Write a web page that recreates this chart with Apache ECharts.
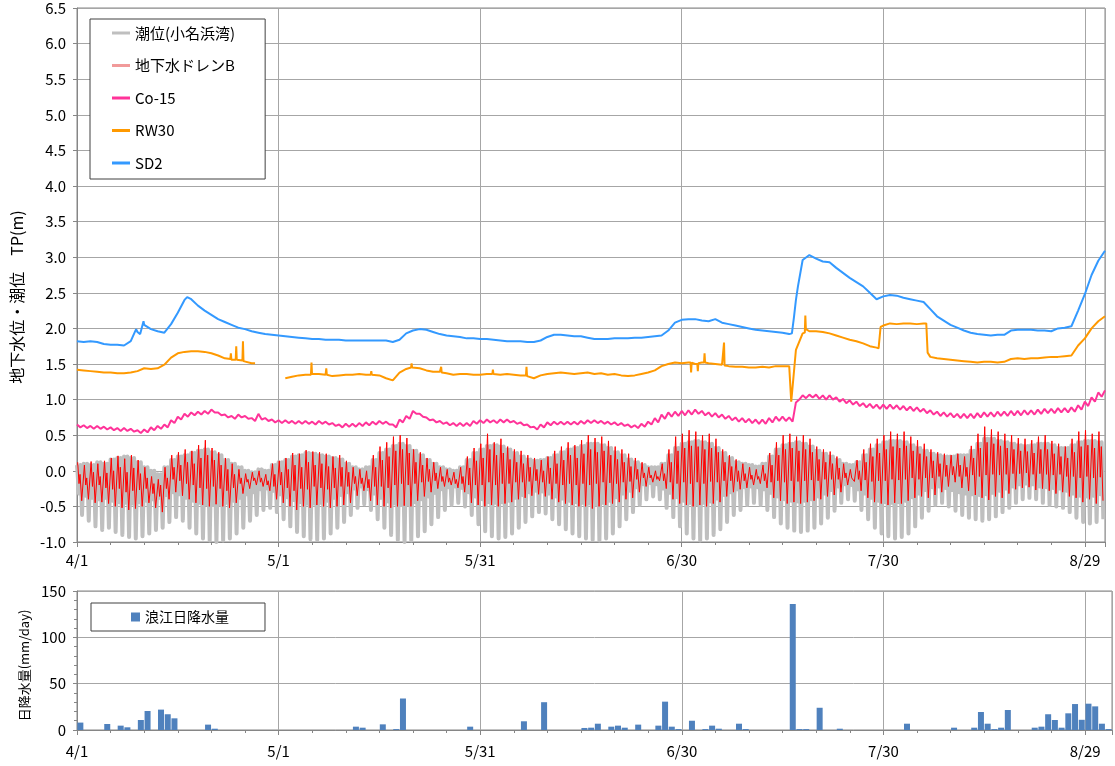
<!DOCTYPE html>
<html lang="ja">
<head>
<meta charset="utf-8">
<title>地下水位・潮位と日降水量</title>
<script src="https://cdn.jsdelivr.net/npm/echarts@6/dist/echarts.min.js"></script>
<style>
  html, body { margin: 0; padding: 0; background: #fff; }
  #chart { width: 1115px; height: 766px; }
</style>
</head>
<body>
<div id="chart"></div>
<script>
// x = days since 4/1; tick labels every 30 days
const dateTicks = ["4/1", "5/1", "5/31", "6/30", "7/30", "8/29"];

// SD2, daily (day 0..153) plus a few read-off intermediate points
const sd2 = [
  1.82,1.81,1.82,1.81,1.78,1.77,1.77,1.76,1.82,1.95,
  2.05,1.99,1.96,1.94,2.06,2.22,2.40,2.41,2.32,2.25,
  2.19,2.13,2.09,2.05,2.01,1.99,1.96,1.94,1.92,1.91,
  1.90,1.89,1.88,1.87,1.86,1.85,1.85,1.84,1.84,1.84,
  1.83,1.83,1.83,1.83,1.83,1.83,1.83,1.81,1.84,1.93,
  1.97,1.99,1.98,1.95,1.92,1.90,1.89,1.88,1.86,1.86,
  1.85,1.85,1.84,1.83,1.82,1.82,1.82,1.81,1.81,1.83,
  1.88,1.91,1.91,1.90,1.89,1.89,1.87,1.85,1.85,1.85,
  1.86,1.86,1.86,1.87,1.87,1.88,1.89,1.90,1.97,2.08,
  2.12,2.13,2.13,2.11,2.10,2.13,2.08,2.06,2.04,2.02,
  2.00,1.98,1.97,1.96,1.95,1.94,1.92,2.40,2.96,3.03,
  2.98,2.94,2.93,2.85,2.78,2.71,2.65,2.59,2.50,2.41,
  2.45,2.47,2.46,2.43,2.41,2.39,2.37,2.27,2.17,2.11,
  2.05,2.01,1.97,1.94,1.92,1.91,1.90,1.91,1.91,1.97,
  1.98,1.98,1.98,1.97,1.97,1.96,2.00,2.01,2.03,2.25,
  2.48,2.75,2.95,3.09
];
const sd2Extra = [[8.8,1.99],[9.4,1.92],[9.9,2.10],[16.4,2.44],[106.4,1.93],[106.7,2.15],[107.3,2.59]];

// RW30, daily (null = no record) plus spikes / steps
const rw30 = [
  1.42,1.41,1.40,1.39,1.38,1.38,1.37,1.37,1.38,1.40,
  1.44,1.43,1.44,1.49,1.59,1.65,1.67,1.68,1.68,1.67,
  1.65,1.62,1.58,1.56,1.55,1.52,1.51,null,null,null,
  null,1.30,1.32,1.34,1.35,1.36,1.36,1.35,1.33,1.34,
  1.35,1.35,1.36,1.35,1.36,1.34,1.30,1.27,1.38,1.43,
  1.46,1.44,1.41,1.39,1.39,1.37,1.35,1.36,1.36,1.35,
  1.35,1.36,1.36,1.35,1.36,1.35,1.34,1.33,1.30,1.34,
  1.36,1.37,1.38,1.37,1.36,1.37,1.38,1.36,1.37,1.35,
  1.36,1.34,1.33,1.34,1.36,1.38,1.41,1.47,1.50,1.52,
  1.51,1.52,1.50,1.52,1.51,1.50,1.49,1.47,1.46,1.46,
  1.45,1.45,1.46,1.45,1.47,1.47,1.47,1.70,1.93,1.96,
  1.96,1.95,1.93,1.90,1.87,1.84,1.82,1.79,1.75,1.73,
  2.04,2.07,2.06,2.07,2.07,2.06,2.07,1.60,1.58,1.57,
  1.56,1.55,1.54,1.53,1.52,1.53,1.53,1.52,1.53,1.57,
  1.58,1.57,1.58,1.58,1.59,1.60,1.60,1.61,1.62,1.76,
  1.86,2.00,2.10,2.17
];
const rw30Extra = [
  [22.82,1.57],[22.9,1.65],[22.98,1.56],
  [23.62,1.56],[23.7,1.75],[23.78,1.56],
  [24.62,1.55],[24.7,1.82],[24.78,1.54],
  [26.5,1.51],
  [34.82,1.35],[34.9,1.52],[34.98,1.36],
  [37.02,1.35],[37.1,1.44],[37.18,1.35],
  [43.72,1.35],[43.8,1.40],[43.88,1.35],
  [49.72,1.45],[49.8,1.51],[49.88,1.45],
  [54.12,1.39],[54.2,1.46],[54.28,1.38],
  [61.82,1.36],[61.9,1.42],[61.98,1.36],
  [66.82,1.34],[66.9,1.46],[66.98,1.33],
  [91.32,1.52],[91.4,1.38],[91.48,1.52],
  [92.32,1.50],[92.4,1.40],[92.48,1.51],
  [93.32,1.52],[93.4,1.65],[93.48,1.52],
  [96.22,1.49],[96.3,1.80],[96.38,1.48],
  [106.22,1.47],[106.3,0.97],[106.6,1.28],
  [108.32,1.94],[108.4,2.18],[108.48,1.99],
  [119.3,1.72],[119.6,2.02],
  [126.4,2.07],[126.6,1.66]
];

// Co-15, every half day from 4/1
const co15 = [
  0.65,0.61,0.64,0.60,0.63,0.59,0.63,0.59,0.62,0.58,0.61,0.57,0.60,0.56,0.60,0.56,0.59,0.55,0.57,0.53,
  0.58,0.54,0.61,0.57,0.63,0.59,0.65,0.61,0.71,0.67,0.76,0.72,0.80,0.76,0.82,0.78,0.83,0.79,0.84,0.80,
  0.86,0.82,0.82,0.78,0.79,0.75,0.77,0.73,0.79,0.75,0.77,0.73,0.74,0.70,0.80,0.72,0.74,0.70,0.72,0.68,
  0.71,0.67,0.71,0.67,0.70,0.66,0.70,0.66,0.70,0.66,0.69,0.65,0.70,0.66,0.69,0.65,0.67,0.63,0.65,0.61,
  0.66,0.62,0.66,0.62,0.67,0.63,0.68,0.64,0.69,0.65,0.70,0.66,0.69,0.65,0.65,0.61,0.72,0.68,0.77,0.73,
  0.84,0.80,0.80,0.76,0.75,0.71,0.72,0.68,0.70,0.66,0.68,0.64,0.67,0.63,0.67,0.63,0.67,0.63,0.70,0.66,
  0.71,0.67,0.72,0.68,0.71,0.67,0.72,0.68,0.72,0.68,0.70,0.66,0.68,0.64,0.65,0.61,0.62,0.58,0.65,0.61,
  0.68,0.64,0.69,0.65,0.69,0.65,0.69,0.65,0.69,0.65,0.70,0.66,0.71,0.67,0.71,0.67,0.70,0.66,0.69,0.65,
  0.68,0.64,0.67,0.63,0.65,0.61,0.64,0.60,0.66,0.62,0.69,0.65,0.74,0.68,0.79,0.73,0.82,0.76,0.83,0.77,
  0.84,0.78,0.85,0.79,0.86,0.80,0.84,0.78,0.82,0.76,0.81,0.75,0.79,0.73,0.77,0.71,0.75,0.69,0.74,0.68,
  0.73,0.67,0.72,0.66,0.72,0.66,0.74,0.68,0.76,0.70,0.76,0.70,0.75,0.69,0.96,1.00,1.06,1.02,1.07,1.03,
  1.07,1.01,1.06,1.00,1.06,1.00,1.03,0.97,1.01,0.95,0.99,0.93,0.97,0.91,0.95,0.89,0.94,0.88,0.93,0.87,
  0.93,0.87,0.93,0.87,0.92,0.86,0.91,0.85,0.90,0.84,0.89,0.83,0.87,0.81,0.85,0.79,0.83,0.77,0.82,0.76,
  0.81,0.75,0.80,0.74,0.80,0.74,0.80,0.74,0.81,0.75,0.82,0.76,0.82,0.76,0.83,0.77,0.83,0.77,0.84,0.78,
  0.84,0.78,0.85,0.79,0.85,0.79,0.86,0.80,0.87,0.81,0.87,0.81,0.88,0.82,0.88,0.82,0.89,0.83,0.92,0.86,
  0.97,0.91,1.03,0.97,1.10,1.04,1.13
];

// 潮位(小名浜湾): daily high, shallow low and deep low (day 0..152)
const tideHigh = [
  0.08,0.10,0.08,0.12,0.10,0.16,0.18,0.20,0.18,0.12,
  0.05,0.00,-0.05,0.05,0.15,0.20,0.22,0.25,0.28,0.30,
  0.26,0.22,0.15,0.10,0.05,0.00,-0.02,0.02,0.00,0.08,
  0.12,0.15,0.20,0.22,0.25,0.24,0.22,0.20,0.18,0.16,
  0.10,0.05,0.02,0.05,0.15,0.25,0.30,0.35,0.38,0.35,
  0.28,0.22,0.15,0.10,0.05,0.02,0.00,0.05,0.15,0.25,
  0.30,0.35,0.36,0.34,0.30,0.25,0.20,0.16,0.14,0.15,
  0.18,0.22,0.26,0.30,0.32,0.35,0.38,0.38,0.36,0.32,
  0.26,0.22,0.16,0.12,0.08,0.05,0.05,0.10,0.22,0.32,
  0.38,0.40,0.42,0.40,0.38,0.32,0.25,0.18,0.12,0.10,
  0.08,0.06,0.10,0.20,0.30,0.36,0.38,0.40,0.38,0.34,
  0.28,0.24,0.20,0.15,0.10,0.08,0.12,0.22,0.30,0.36,
  0.40,0.42,0.42,0.40,0.36,0.32,0.28,0.24,0.22,0.20,
  0.20,0.22,0.22,0.28,0.38,0.45,0.45,0.42,0.40,0.38,
  0.36,0.35,0.36,0.38,0.38,0.36,0.32,0.32,0.36,0.40,
  0.42,0.42,0.40
];
const tideLowShallow = [
  -0.32,-0.35,-0.38,-0.40,-0.38,-0.42,-0.44,-0.45,-0.46,-0.44,
  -0.42,-0.40,-0.38,-0.34,-0.30,-0.33,-0.38,-0.42,-0.45,-0.47,
  -0.48,-0.47,-0.45,-0.42,-0.38,-0.33,-0.30,-0.26,-0.25,-0.28,
  -0.33,-0.37,-0.41,-0.44,-0.46,-0.46,-0.45,-0.42,-0.38,-0.34,
  -0.30,-0.25,-0.22,-0.26,-0.32,-0.38,-0.43,-0.46,-0.48,-0.47,
  -0.44,-0.40,-0.36,-0.31,-0.26,-0.23,-0.22,-0.24,-0.30,-0.36,
  -0.40,-0.44,-0.45,-0.44,-0.42,-0.38,-0.34,-0.30,-0.28,-0.29,
  -0.32,-0.36,-0.39,-0.42,-0.44,-0.45,-0.46,-0.47,-0.45,-0.42,
  -0.37,-0.32,-0.28,-0.23,-0.19,-0.17,-0.19,-0.25,-0.31,-0.37,
  -0.42,-0.45,-0.47,-0.45,-0.43,-0.39,-0.34,-0.30,-0.26,-0.23,
  -0.22,-0.23,-0.26,-0.31,-0.36,-0.40,-0.42,-0.43,-0.42,-0.40,
  -0.36,-0.32,-0.27,-0.22,-0.19,-0.20,-0.26,-0.32,-0.38,-0.42,
  -0.44,-0.45,-0.44,-0.42,-0.37,-0.32,-0.27,-0.23,-0.22,-0.24,
  -0.27,-0.30,-0.32,-0.33,-0.34,-0.33,-0.31,-0.28,-0.25,-0.22,
  -0.19,-0.18,-0.19,-0.22,-0.23,-0.24,-0.25,-0.28,-0.32,-0.35,
  -0.36,-0.35,-0.33
];
const tideLowDeep = [
  -0.62,-0.70,-0.78,-0.83,-0.80,-0.86,-0.90,-0.93,-0.95,-0.92,
  -0.88,-0.83,-0.80,-0.72,-0.65,-0.70,-0.80,-0.88,-0.95,-0.98,
  -1.00,-0.98,-0.95,-0.88,-0.80,-0.70,-0.62,-0.55,-0.52,-0.58,
  -0.68,-0.78,-0.86,-0.92,-0.96,-0.97,-0.95,-0.88,-0.80,-0.72,
  -0.62,-0.52,-0.47,-0.55,-0.68,-0.80,-0.90,-0.97,-1.00,-0.98,
  -0.92,-0.85,-0.75,-0.65,-0.55,-0.48,-0.45,-0.50,-0.62,-0.75,
  -0.85,-0.92,-0.95,-0.93,-0.88,-0.80,-0.72,-0.64,-0.58,-0.60,
  -0.68,-0.75,-0.82,-0.88,-0.92,-0.95,-0.97,-0.98,-0.95,-0.88,
  -0.78,-0.68,-0.58,-0.48,-0.40,-0.36,-0.40,-0.52,-0.65,-0.78,
  -0.88,-0.95,-0.98,-0.95,-0.90,-0.82,-0.72,-0.62,-0.55,-0.48,
  -0.45,-0.48,-0.55,-0.65,-0.74,-0.80,-0.84,-0.86,-0.84,-0.80,
  -0.74,-0.66,-0.56,-0.45,-0.40,-0.42,-0.55,-0.68,-0.80,-0.88,
  -0.92,-0.95,-0.93,-0.88,-0.78,-0.66,-0.56,-0.48,-0.45,-0.50,
  -0.56,-0.62,-0.66,-0.68,-0.70,-0.68,-0.64,-0.58,-0.52,-0.45,
  -0.40,-0.38,-0.40,-0.45,-0.48,-0.50,-0.52,-0.58,-0.66,-0.72,
  -0.74,-0.72,-0.68
];

// 地下水ドレンB: daily main high, shallow low, second high, deep low (day 0..152)
const drainHigh = [
  0.12,0.08,0.13,0.10,0.14,0.18,0.21,0.17,0.22,0.15,
  0.05,-0.08,-0.12,0.05,0.22,0.26,0.30,0.28,0.36,0.43,
  0.32,0.26,0.18,0.10,0.02,-0.04,-0.02,0.00,-0.05,0.10,
  0.14,0.18,0.25,0.24,0.29,0.27,0.26,0.24,0.20,0.22,
  0.14,0.05,0.02,0.00,0.22,0.34,0.40,0.48,0.50,0.46,
  0.30,0.26,0.18,0.12,0.05,0.02,-0.02,0.05,0.20,0.32,
  0.38,0.52,0.40,0.45,0.34,0.30,0.28,0.22,0.18,0.15,
  0.20,0.28,0.34,0.40,0.36,0.43,0.50,0.46,0.48,0.42,
  0.34,0.30,0.24,0.18,0.12,0.05,0.00,0.10,0.30,0.48,
  0.52,0.57,0.55,0.50,0.52,0.45,0.30,0.22,0.16,0.10,
  0.05,0.02,0.08,0.25,0.40,0.50,0.52,0.48,0.50,0.45,
  0.34,0.30,0.27,0.20,0.10,0.02,0.15,0.30,0.38,0.45,
  0.50,0.55,0.52,0.55,0.48,0.43,0.38,0.30,0.26,0.24,
  0.22,0.24,0.20,0.35,0.52,0.62,0.58,0.55,0.52,0.50,
  0.46,0.45,0.43,0.48,0.50,0.42,0.38,0.34,0.45,0.55,
  0.57,0.52,0.55
];
const drainLowShallow = [
  -0.18,-0.20,-0.22,-0.20,-0.24,-0.26,-0.25,-0.30,-0.28,-0.27,
  -0.25,-0.32,-0.36,-0.25,-0.12,-0.14,-0.18,-0.20,-0.24,-0.25,
  -0.22,-0.25,-0.28,-0.24,-0.18,-0.16,-0.14,-0.16,-0.20,-0.22,
  -0.20,-0.24,-0.28,-0.25,-0.26,-0.22,-0.24,-0.26,-0.24,-0.22,
  -0.22,-0.18,-0.18,-0.24,-0.22,-0.22,-0.24,-0.20,-0.18,-0.20,
  -0.18,-0.16,-0.15,-0.14,-0.15,-0.16,-0.18,-0.18,-0.20,-0.20,
  -0.20,-0.16,-0.20,-0.18,-0.18,-0.16,-0.16,-0.15,-0.14,-0.16,
  -0.18,-0.18,-0.20,-0.18,-0.20,-0.18,-0.20,-0.18,-0.16,-0.17,
  -0.18,-0.16,-0.15,-0.12,-0.10,-0.10,-0.12,-0.14,-0.16,-0.18,
  -0.16,-0.18,-0.16,-0.18,-0.15,-0.16,-0.14,-0.14,-0.15,-0.14,
  -0.12,-0.12,-0.14,-0.16,-0.14,-0.16,-0.14,-0.15,-0.14,-0.13,
  -0.14,-0.12,-0.12,-0.12,-0.10,-0.10,-0.12,-0.13,-0.15,-0.14,
  -0.14,-0.12,-0.13,-0.12,-0.10,-0.12,-0.10,-0.10,-0.08,-0.08,
  -0.06,-0.08,-0.08,-0.06,-0.08,-0.06,-0.05,-0.06,-0.05,-0.04,
  -0.04,-0.03,-0.05,-0.04,-0.05,-0.06,-0.05,-0.08,-0.08,-0.10,
  -0.08,-0.10,-0.09
];
const drainHigh2 = [
  -0.05,-0.10,-0.02,-0.08,-0.03,0.00,0.05,-0.02,0.04,-0.04,
  -0.10,-0.18,-0.20,-0.10,0.05,0.08,0.12,0.10,0.18,0.22,
  0.15,0.08,0.02,-0.05,-0.10,-0.12,-0.10,-0.10,-0.14,-0.05,
  -0.02,0.02,0.08,0.05,0.12,0.08,0.10,0.06,0.04,0.05,
  -0.02,-0.08,-0.10,-0.12,0.05,0.15,0.20,0.28,0.30,0.25,
  0.12,0.08,0.02,-0.03,-0.08,-0.10,-0.12,-0.08,0.04,0.14,
  0.18,0.30,0.22,0.25,0.16,0.12,0.10,0.05,0.02,0.00,
  0.04,0.10,0.15,0.22,0.18,0.24,0.30,0.26,0.28,0.22,
  0.16,0.12,0.06,0.02,-0.03,-0.06,-0.08,-0.04,0.12,0.28,
  0.32,0.35,0.34,0.30,0.32,0.26,0.12,0.06,0.00,-0.04,
  -0.06,-0.08,-0.04,0.08,0.22,0.30,0.32,0.28,0.30,0.26,
  0.16,0.12,0.10,0.04,-0.03,-0.08,0.00,0.12,0.20,0.25,
  0.30,0.34,0.32,0.35,0.28,0.24,0.20,0.14,0.10,0.08,
  0.06,0.08,0.05,0.18,0.32,0.40,0.38,0.35,0.32,0.30,
  0.28,0.27,0.25,0.30,0.30,0.24,0.20,0.18,0.26,0.34,
  0.36,0.32,0.34
];
const drainLow = [
  -0.42,-0.40,-0.45,-0.44,-0.46,-0.50,-0.52,-0.55,-0.53,-0.50,
  -0.45,-0.52,-0.58,-0.40,-0.30,-0.35,-0.40,-0.45,-0.48,-0.50,
  -0.47,-0.50,-0.52,-0.45,-0.32,-0.25,-0.20,-0.22,-0.28,-0.40,
  -0.45,-0.50,-0.55,-0.50,-0.52,-0.48,-0.50,-0.52,-0.50,-0.48,
  -0.45,-0.35,-0.28,-0.42,-0.48,-0.50,-0.52,-0.50,-0.49,-0.50,
  -0.42,-0.36,-0.30,-0.25,-0.22,-0.20,-0.24,-0.30,-0.45,-0.48,
  -0.50,-0.48,-0.50,-0.46,-0.44,-0.40,-0.38,-0.35,-0.33,-0.36,
  -0.40,-0.44,-0.46,-0.48,-0.50,-0.50,-0.53,-0.50,-0.48,-0.46,
  -0.44,-0.40,-0.38,-0.30,-0.22,-0.16,-0.14,-0.25,-0.40,-0.46,
  -0.48,-0.50,-0.48,-0.50,-0.46,-0.44,-0.36,-0.30,-0.26,-0.24,
  -0.20,-0.18,-0.24,-0.38,-0.42,-0.46,-0.44,-0.46,-0.44,-0.42,
  -0.40,-0.36,-0.34,-0.30,-0.20,-0.15,-0.28,-0.38,-0.44,-0.46,
  -0.48,-0.45,-0.46,-0.42,-0.38,-0.36,-0.38,-0.34,-0.30,-0.22,
  -0.16,-0.24,-0.28,-0.34,-0.38,-0.41,-0.36,-0.38,-0.32,-0.26,
  -0.24,-0.23,-0.27,-0.25,-0.28,-0.32,-0.30,-0.36,-0.38,-0.44,
  -0.40,-0.46,-0.42
];

// 浪江日降水量 (mm/day), day 0..153
const rain = [
  8,0,0,0,6.5,0,4.7,2.9,0,10.8,
  20.5,0,22,17,12.6,0,0,0,0,5.8,
  1.4,0,0,0,0,0,0,0,0,0,
  0,0,0,0,0,0,0,0,0,0,
  0,3.6,2.5,0,0,6.1,0,1,34,0,
  0,0,0,0,0,0,0,0,3.6,0,
  0,0,0,0,0,0,9.4,0,0,30,
  0,0,0,0,0,2.2,2.5,6.8,0,3.6,
  4.7,2.5,0,5.8,0,0,4.7,30.6,3.6,1,
  0,10,0,1,4.7,1.4,0,0,6.8,1,
  0,0,0,0,0,0,136,1,1,0,
  24,0,0,1.4,0,0,0,0,0,0,
  0,0,0,6.8,0,0,0,0,0,0,
  2.5,0,0,2.5,19.4,6.8,1,2.5,21.6,0,
  0,0,2.5,3.6,17,10.8,2.5,18,28,11,
  28.4,25.5,6.8,1
];

function withExtra(daily, extra) {
  return daily
    .map((v, d) => [d, v])
    .concat(extra)
    .sort((a, b) => a[0] - b[0])
    .map((p) => [p[0], p[1] == null ? "-" : p[1]]);
}

const tidePoints = [];
tideHigh.forEach((hi, d) => {
  tidePoints.push([d, hi], [d + 0.3, tideLowShallow[d]], [d + 0.5, hi], [d + 0.75, tideLowDeep[d]]);
});
const drainPoints = [];
drainHigh.forEach((hi, d) => {
  drainPoints.push(
    [d + 0.1, hi],
    [d + 0.3, drainLowShallow[d]],
    [d + 0.45, drainHigh2[d]],
    [d + 0.7, drainLow[d]]
  );
});

const FONT = '"Noto Sans CJK JP", "Noto Sans", sans-serif';
const GRID_LINE = "#a6a6a6";
const AXIS_LINE = "#868686";

function dateLabel(value) {
  const i = value / 30;
  return Number.isInteger(i) && dateTicks[i] ? dateTicks[i] : "";
}

const chart = echarts.init(document.getElementById("chart"), null, { renderer: "canvas" });

const xAxisBase = {
  type: "value",
  min: 0,
  interval: 30,
  axisLine: { show: true, onZero: false, lineStyle: { color: AXIS_LINE } },
  axisTick: { show: true, length: 5, lineStyle: { color: AXIS_LINE } },
  minorTick: { show: true, splitNumber: 6, length: 3, lineStyle: { color: AXIS_LINE } },
  axisLabel: { formatter: dateLabel, color: "#000", fontSize: 15, margin: 11, showMaxLabel: false },
  splitLine: { show: true, lineStyle: { color: GRID_LINE } },
  minorSplitLine: { show: false },
};

const option = {
  animation: false,
  backgroundColor: "#ffffff",
  textStyle: { fontFamily: FONT, color: "#000" },
  grid: [
    { left: 77, top: 8, width: 1028, height: 534, show: true, borderColor: AXIS_LINE, borderWidth: 1, outerBoundsMode: "none" },
    { left: 77, top: 591, width: 1035, height: 139, show: true, borderColor: AXIS_LINE, borderWidth: 1, outerBoundsMode: "none" },
  ],
  legend: [
    {
      left: 90,
      top: 19,
      orient: "vertical",
      icon: "rect",
      itemWidth: 18,
      itemHeight: 3,
      itemGap: 14.5,
      padding: [5, 30, 7, 22],
      borderColor: "#404040",
      borderWidth: 1,
      backgroundColor: "#ffffff",
      selectedMode: false,
      textStyle: { fontSize: 15, lineHeight: 18, color: "#000" },
      data: [
        { name: "潮位(小名浜湾)" },
        { name: "地下水ドレンB", itemStyle: { color: "#f19a9a" } },
        { name: "Co-15" },
        { name: "RW30" },
        { name: "SD2" },
      ],
    },
    {
      left: 91,
      top: 603,
      icon: "rect",
      itemWidth: 9,
      itemHeight: 9,
      padding: [6, 36, 6, 40],
      borderColor: "#404040",
      borderWidth: 1,
      backgroundColor: "#ffffff",
      selectedMode: false,
      textStyle: { fontSize: 14, lineHeight: 16, color: "#000" },
      data: ["浪江日降水量"],
    },
  ],
  xAxis: [
    Object.assign({}, xAxisBase, { gridIndex: 0, max: 153 }),
    Object.assign({}, xAxisBase, {
      gridIndex: 1,
      max: 154,
      axisLabel: Object.assign({}, xAxisBase.axisLabel, { margin: 14 }),
    }),
  ],
  yAxis: [
    {
      type: "value",
      gridIndex: 0,
      min: -1,
      max: 6.5,
      interval: 0.5,
      axisLine: { show: true, lineStyle: { color: AXIS_LINE } },
      axisTick: { show: true, length: 4, lineStyle: { color: AXIS_LINE } },
      axisLabel: { formatter: (v) => v.toFixed(1), color: "#000", fontSize: 15, margin: 11 },
      splitLine: { show: true, lineStyle: { color: GRID_LINE } },
      name: "地下水位・潮位　TP(m)",
      nameLocation: "middle",
      nameGap: 52,
      nameRotate: 90,
      nameTextStyle: { fontSize: 16, color: "#000", padding: [0, 44, 0, 0] },
    },
    {
      type: "value",
      gridIndex: 1,
      min: 0,
      max: 150,
      interval: 50,
      axisLine: { show: true, lineStyle: { color: AXIS_LINE } },
      axisTick: { show: true, length: 4, lineStyle: { color: AXIS_LINE } },
      minorTick: { show: true, splitNumber: 5, length: 3, lineStyle: { color: AXIS_LINE } },
      axisLabel: { color: "#000", fontSize: 15, margin: 11 },
      splitLine: { show: true, lineStyle: { color: GRID_LINE } },
      name: "日降水量(mm/day)",
      nameLocation: "middle",
      nameGap: 42,
      nameRotate: 90,
      nameTextStyle: { fontSize: 13, color: "#000", padding: [0, 10, 0, 0] },
    },
  ],
  series: [
    {
      name: "潮位(小名浜湾)",
      type: "line",
      xAxisIndex: 0,
      yAxisIndex: 0,
      data: tidePoints,
      color: "#bfbfbf",
      symbol: "none",
      lineStyle: { width: 4, join: "round" },
      silent: true,
    },
    {
      name: "地下水ドレンB",
      type: "line",
      xAxisIndex: 0,
      yAxisIndex: 0,
      data: drainPoints,
      color: "#ff0000",
      symbol: "none",
      lineStyle: { width: 1, join: "round" },
      silent: true,
    },
    {
      name: "Co-15",
      type: "line",
      xAxisIndex: 0,
      yAxisIndex: 0,
      data: co15.map((v, i) => [i * 0.5, v]),
      color: "#ff3399",
      symbol: "none",
      lineStyle: { width: 2 },
      silent: true,
    },
    {
      name: "RW30",
      type: "line",
      xAxisIndex: 0,
      yAxisIndex: 0,
      data: withExtra(rw30, rw30Extra),
      color: "#ff9900",
      symbol: "none",
      connectNulls: false,
      lineStyle: { width: 2 },
      silent: true,
    },
    {
      name: "SD2",
      type: "line",
      xAxisIndex: 0,
      yAxisIndex: 0,
      data: withExtra(sd2, sd2Extra),
      color: "#3399ff",
      symbol: "none",
      lineStyle: { width: 2 },
      silent: true,
    },
    {
      name: "浪江日降水量",
      type: "bar",
      xAxisIndex: 1,
      yAxisIndex: 1,
      data: rain.map((v, d) => [d + 0.5, v]),
      barWidth: 6,
      color: "#4f81bd",
      silent: true,
    },
  ],
};

chart.setOption(option);
</script>
</body>
</html>
